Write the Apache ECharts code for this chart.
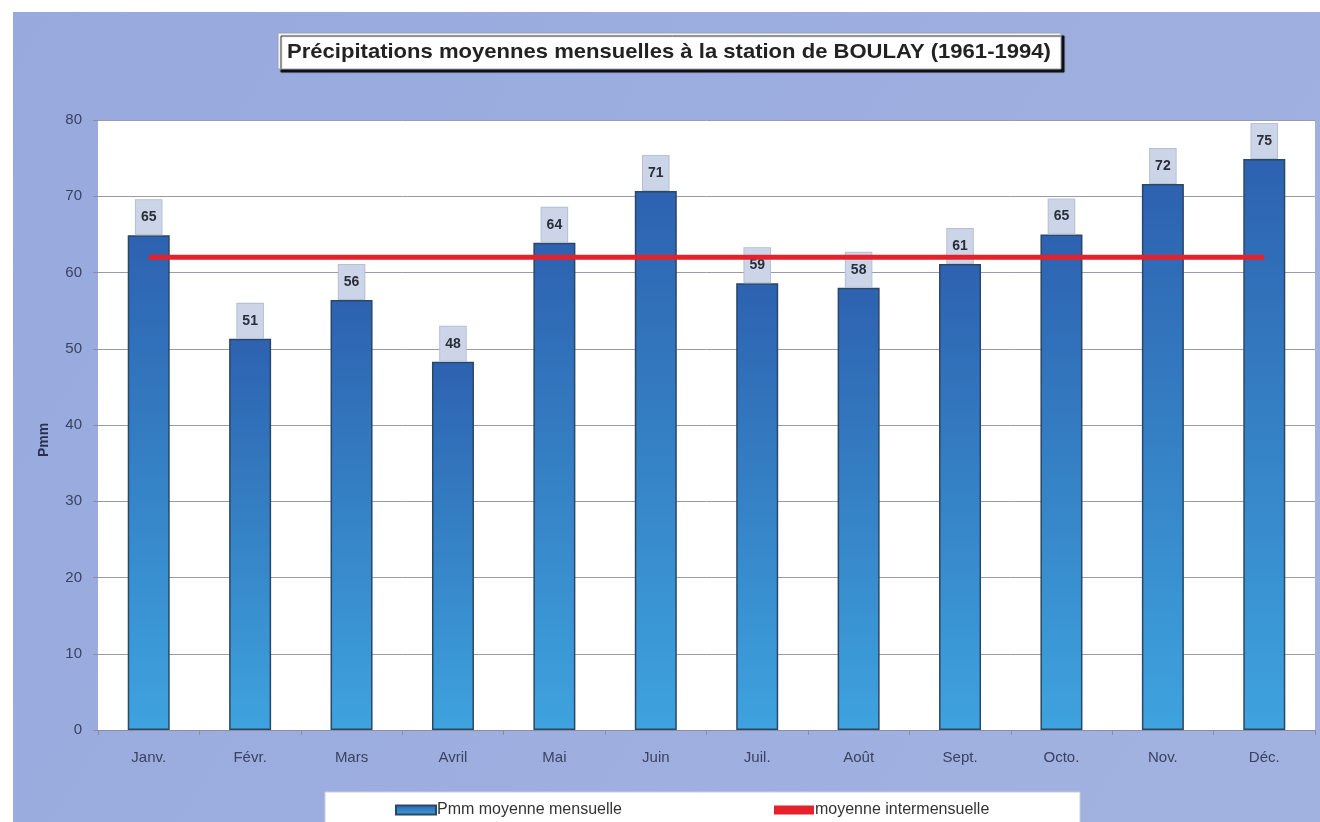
<!DOCTYPE html>
<html>
<head>
<meta charset="utf-8">
<script src="https://cdn.jsdelivr.net/npm/echarts@6/dist/echarts.min.js"></script>
<style>
html,body{margin:0;padding:0;background:#fff;}
#c{width:1320px;height:822px;}
</style>
</head>
<body>
<div id="c"></div>
<script>
const months = ['Janv.','Févr.','Mars','Avril','Mai','Juin','Juil.','Août','Sept.','Octo.','Nov.','Déc.'];
const pmm = [64.9, 51.3, 56.4, 48.3, 63.9, 70.7, 58.6, 58.0, 61.1, 65.0, 71.6, 74.9];
const moyenne = [62, 62, 62, 62, 62, 62, 62, 62, 62, 62, 62, 62];
const yTicks = {min: 0, max: 80, interval: 10};
const titleText = 'Précipitations moyennes mensuelles à la station de BOULAY (1961-1994)';
const seriesNames = ['Pmm moyenne mensuelle', 'moyenne intermensuelle'];

const FONT = 'Liberation Sans, Arial, sans-serif';
const chart = echarts.init(document.getElementById('c'), null, {renderer: 'canvas'});
chart.setOption({
  backgroundColor: '#ffffff',
  animation: false,
  graphic: [
    {type: 'rect', z: -10, silent: true, shape: {x: 13, y: 12, width: 1307, height: 810},
     style: {fill: new echarts.graphic.LinearGradient(0, 0, 1, 1, [
       {offset: 0, color: '#98a9de'}, {offset: 1, color: '#a2b2e0'}])}},
    {type: 'rect', z: -5, silent: true, shape: {x: 325, y: 792, width: 755, height: 32},
     style: {fill: '#ffffff', stroke: '#c8cde0', lineWidth: 1}},
    {type: 'rect', z: 5, silent: true, shape: {x: 278, y: 33, width: 783, height: 36},
     style: {fill: '#ffffff', stroke: '#9aa0b0', lineWidth: 1,
             shadowColor: '#111', shadowOffsetX: 3, shadowOffsetY: 3, shadowBlur: 1}},
    {type: 'text', z: 6, silent: true, x: 287, y: 52, scaleX: 1.05,
     style: {text: titleText, fill: '#222', font: 'bold 21px ' + FONT, verticalAlign: 'middle', align: 'left'}}
  ],
  legend: {
    data: [
      {name: seriesNames[0], icon: 'rect'},
      {name: seriesNames[1], icon: 'rect'}
    ],
    left: 390, top: 797,
    itemWidth: 40, itemHeight: 9,
    itemGap: 152,
    textStyle: {fontFamily: FONT, fontSize: 16, color: '#333', padding: [0,0,0,-4]}
  },
  grid: {left: 98, right: 5, top: 120, bottom: 92, show: true, backgroundColor: '#ffffff', borderWidth: 0},
  xAxis: {
    type: 'category',
    data: months,
    axisLine: {lineStyle: {color: '#8a8fa0', width: 1}},
    axisTick: {show: true, length: 5, lineStyle: {color: '#8a8fa0'}},
    axisLabel: {fontFamily: FONT, fontSize: 15, color: '#3a4260', margin: 20}
  },
  yAxis: {
    type: 'value',
    min: yTicks.min, max: yTicks.max, interval: yTicks.interval,
    name: 'Pmm',
    nameLocation: 'middle',
    nameGap: 47,
    nameRotate: 90,
    nameTextStyle: {fontFamily: FONT, fontWeight: 'bold', fontSize: 14, color: '#2a3050', padding: [0,0,0,-30]},
    axisLine: {show: false},
    axisTick: {show: true, length: 5, lineStyle: {color: '#8a8fa0'}},
    axisLabel: {fontFamily: FONT, fontSize: 15, color: '#3a4260', margin: 16},
    splitLine: {lineStyle: {color: '#9a9aa8', width: 1}}
  },
  series: [
    {
      name: seriesNames[0],
      type: 'bar',
      data: pmm,
      barWidth: 42,
      itemStyle: {
        color: new echarts.graphic.LinearGradient(0, 0, 0, 1, [
          {offset: 0, color: '#2d62b0'}, {offset: 1, color: '#3ea3de'}]),
        borderColor: '#2b4766',
        borderWidth: 1.5
      },
      label: {
        show: true,
        position: 'top',
        distance: 1,
        formatter: p => Math.round(p.value),
        fontFamily: FONT,
        fontWeight: 'bold',
        fontSize: 14,
        color: '#2a2e3a',
        backgroundColor: '#ccd5e8',
        borderColor: '#b5bfd6',
        borderWidth: 1,
        padding: [10, 5, 10, 5]
      },
      z: 2
    },
    {
      name: seriesNames[1],
      type: 'line',
      data: moyenne,
      symbol: 'none',
      lineStyle: {color: '#e5222c', width: 5},
      itemStyle: {color: '#e5222c'},
      z: 3
    }
  ]
});
</script>
</body>
</html>
